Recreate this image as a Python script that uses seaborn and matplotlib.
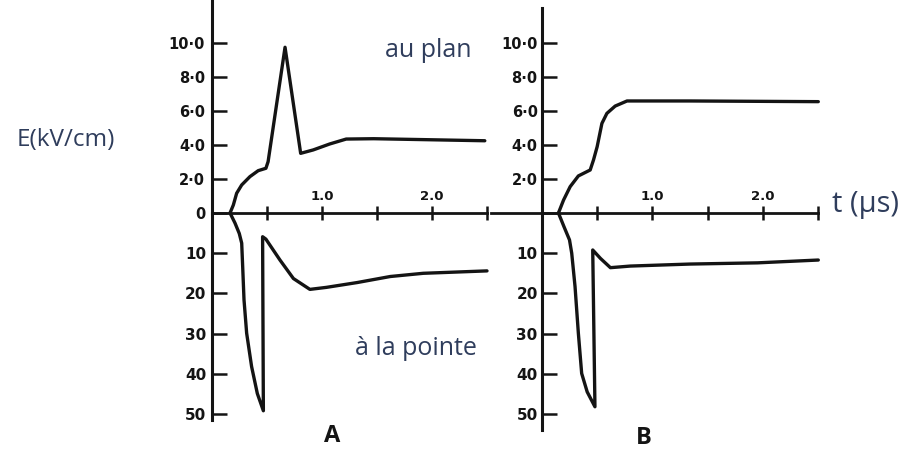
import matplotlib
matplotlib.use("Agg")
import matplotlib.pyplot as plt
import pandas as pd
import seaborn as sns

# Electric field at the plane (upper traces, kV/cm) and at the point
# (lower traces, plotted downward) versus time in microseconds.
t_a_plan = [0.164, 0.194, 0.224, 0.27, 0.345, 0.42, 0.49, 0.51, 0.664, 0.806,
            0.92, 1.07, 1.22, 1.47, 2.48]
e_a_plan = [0.0, 0.47, 1.16, 1.65, 2.14, 2.49, 2.63, 3.02, 9.75, 3.51,
            3.71, 4.06, 4.35, 4.37, 4.25]

t_a_point = [0.164, 0.209, 0.248, 0.27, 0.279, 0.291, 0.315, 0.36, 0.412, 0.467,
             0.46, 0.49, 0.618, 0.74, 0.89, 1.04, 1.32, 1.62, 1.92, 2.5]
e_a_point = [0.0, 2.5, 5.1, 7.5, 13.4, 21.6, 29.9, 38.2, 44.9, 49.2,
             5.9, 6.5, 11.7, 16.3, 19.0, 18.5, 17.3, 15.8, 15.0, 14.4]

t_b_plan = [0.15, 0.196, 0.256, 0.33, 0.437, 0.467, 0.50, 0.543, 0.588, 0.663,
            0.77, 1.34, 2.50]
e_b_plan = [0.0, 0.76, 1.55, 2.18, 2.53, 3.12, 3.9, 5.27, 5.86, 6.29,
            6.59, 6.59, 6.55]

t_b_point = [0.15, 0.2, 0.25, 0.27, 0.30, 0.33, 0.36, 0.41, 0.48,
             0.46, 0.53, 0.62, 0.80, 1.34, 1.95, 2.5]
e_b_point = [0.0, 3.4, 6.7, 10.0, 18.3, 29.9, 39.9, 44.5, 48.2,
             9.2, 11.3, 13.6, 13.2, 12.7, 12.4, 11.7]

plan_ticks = [0, 2, 4, 6, 8, 10]
plan_labels_a = ["0", "2·0", "4·0", "6·0", "8·0", "10·0"]
plan_labels_b = ["", "2·0", "4·0", "6·0", "8·0", "10·0"]
point_ticks = [10, 20, 30, 40, 50]
point_labels = ["10", "20", "30", "40", "50"]
time_ticks = [0.5, 1.0, 1.5, 2.0, 2.5]
time_labels = ["", "1.0", "", "2.0", ""]

W, H = 908, 450
INK = "#141414"
NOTE = "#2f3d5c"

sns.set_theme(style="white")
plt.rcParams["font.family"] = ["Open Sans", "DejaVu Sans"]

fig = plt.figure(figsize=(W / 100, H / 100), dpi=100)
fig.patch.set_facecolor("white")


def px_axes(left, top, right, bottom):
    return fig.add_axes([left / W, 1 - bottom / H, (right - left) / W, (bottom - top) / H])


def tick_font(ax, size, pad):
    ax.tick_params(axis="y", labelsize=size, pad=pad)
    for lab in ax.get_yticklabels():
        lab.set_fontfamily("DejaVu Sans")
        lab.set_fontweight("bold")
        lab.set_color(INK)


def upper_panel(ax, t, e, labels, xlim, ylim_top, label_pad):
    df = pd.DataFrame({"t": t, "E": e})
    sns.lineplot(data=df, x="t", y="E", sort=False, estimator=None, ax=ax,
                 color=INK, lw=2.4, clip_on=False)
    ax.set_xlim(*xlim)
    ax.set_ylim(0, ylim_top)
    ax.patch.set_alpha(0)
    for s in ("top", "right"):
        ax.spines[s].set_visible(False)
    ax.spines["left"].set_position(("data", 0))
    ax.spines["left"].set_linewidth(2.2)
    ax.spines["bottom"].set_linewidth(2.0)
    for s in ("left", "bottom"):
        ax.spines[s].set_color(INK)
    ax.set_yticks(plan_ticks, labels)
    ax.set_xticks(time_ticks, [""] * len(time_ticks))
    ax.tick_params(axis="y", direction="in", length=11, width=1.8, color=INK, left=True)
    ax.tick_params(axis="x", direction="inout", length=10, width=1.8, color=INK, bottom=True)
    tick_font(ax, 10.5, label_pad)
    for x, lab in zip(time_ticks, time_labels):
        if lab:
            ax.annotate(lab, (x, 0), xytext=(0, 7), textcoords="offset points",
                        ha="center", va="bottom", fontsize=9.5, fontweight="bold",
                        family="DejaVu Sans", color=INK)
    ax.set_xlabel("")
    ax.set_ylabel("")


def lower_panel(ax, t, e, xlim, ylim_bottom, label_pad):
    df = pd.DataFrame({"t": t, "E": e})
    sns.lineplot(data=df, x="t", y="E", sort=False, estimator=None, ax=ax,
                 color=INK, lw=2.4, clip_on=False)
    ax.set_xlim(*xlim)
    ax.set_ylim(ylim_bottom, 0)
    ax.patch.set_alpha(0)
    for s in ("top", "right", "bottom"):
        ax.spines[s].set_visible(False)
    ax.spines["left"].set_position(("data", 0))
    ax.spines["left"].set_linewidth(2.2)
    ax.spines["left"].set_color(INK)
    ax.set_yticks(point_ticks, point_labels)
    ax.set_xticks([])
    ax.tick_params(axis="y", direction="in", length=11, width=1.8, color=INK, left=True)
    tick_font(ax, 11, label_pad)
    ax.set_xlabel("")
    ax.set_ylabel("")


# panel A
ax_a_top = px_axes(212, 0, 487, 213)
upper_panel(ax_a_top, t_a_plan, e_a_plan, plan_labels_a, (0, 2.5), 213 / 17, 5)
ax_a_bot = px_axes(212, 213, 487, 420)
lower_panel(ax_a_bot, t_a_point, e_a_point, (0, 2.5), 207 / 4.02, 4)

# panel B
ax_b_top = px_axes(491, 8, 818.3, 213)
upper_panel(ax_b_top, t_b_plan, e_b_plan, plan_labels_b, (-0.46, 2.5), 205 / 17, 3)
ax_b_bot = px_axes(491, 213, 818.3, 430)
lower_panel(ax_b_bot, t_b_point, e_b_point, (-0.46, 2.5), 217 / 4.02, 3)


def note(x, y, s, **kw):
    fig.text(x / W, 1 - y / H, s, **kw)


note(66, 146, "E(kV/cm)", ha="center", va="baseline", fontsize=17.5, color=NOTE)
note(428, 57, "au plan", ha="center", va="baseline", fontsize=18, color=NOTE)
note(416, 355, "à la pointe", ha="center", va="baseline", fontsize=18, color=NOTE)
note(832, 212, "t (µs)", ha="left", va="baseline", fontsize=21, color=NOTE)
note(332, 442, "A", ha="center", va="baseline", fontsize=17, fontweight="bold", color=INK)
note(644, 444, "B", ha="center", va="baseline", fontsize=17, fontweight="bold", color=INK)

fig.savefig("out.png", dpi=100, facecolor="white")
